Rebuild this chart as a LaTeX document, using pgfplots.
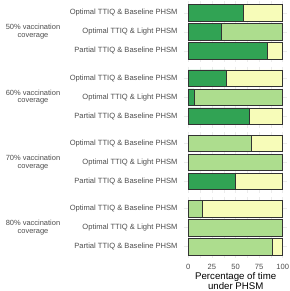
\documentclass[border=0pt]{standalone}
\usepackage{fontspec}
\setmainfont{Liberation Sans}
\usepackage{pgfplots}
\pgfplotsset{compat=1.18}
\definecolor{dkg}{HTML}{31A354}
\definecolor{ltg}{HTML}{ADDD8E}
\definecolor{ylw}{HTML}{F7FCB9}
\definecolor{txt}{HTML}{4D4D4D}
\definecolor{grd}{HTML}{EBEBEB}
\pgfplotsset{panel/.style={
  scale only axis, width=103.8bp, height=60.8bp,
  xmin=-5, xmax=105, ymin=-0.6, ymax=2.6, y dir=reverse,
  xbar stacked, bar width=16.5bp,
  axis line style={draw=none}, major tick length=0, minor tick length=0,
  xtick={0,25,50,75,100}, minor xtick={12.5,37.5,62.5,87.5},
  ytick={0,1,2},
  yticklabels={Optimal TTIQ \& Baseline PHSM, Optimal TTIQ \& Light PHSM, Partial TTIQ \& Baseline PHSM},
  grid=both, major grid style={grd, line width=0.5bp}, minor grid style={grd, line width=0.25bp},
  ticklabel style={font=\fontsize{7.6}{8}\selectfont, text=txt},
  yticklabel style={inner sep=0pt, xshift=-5.9bp},
  xticklabel style={inner sep=0pt, yshift=-5.9bp},
  /pgf/number format/assume math mode=true,
  every axis plot/.append style={draw=black!80, line width=0.5bp},
  anchor=north west,
}}
\begin{document}
\begin{tikzpicture}
\path[use as bounding box] (0,0) rectangle (290bp,291bp);
% 50%
\begin{axis}[panel, at={(183.6bp,289.6bp)}, xticklabels={}]
\addplot[fill=dkg] coordinates {(58,0) (35,1) (84,2)};
\addplot[fill=ltg] coordinates {(0,0) (65,1) (0,2)};
\addplot[fill=ylw] coordinates {(42,0) (0,1) (16,2)};
\end{axis}
% 60%
\begin{axis}[panel, at={(183.6bp,224.3bp)}, xticklabels={}]
\addplot[fill=dkg] coordinates {(40,0) (6,1) (65,2)};
\addplot[fill=ltg] coordinates {(0,0) (94,1) (0,2)};
\addplot[fill=ylw] coordinates {(60,0) (0,1) (35,2)};
\end{axis}
% 70%
\begin{axis}[panel, at={(183.6bp,159.0bp)}, xticklabels={}]
\addplot[fill=dkg] coordinates {(0,0) (0,1) (49.5,2)};
\addplot[fill=ltg] coordinates {(67,0) (100,1) (0,2)};
\addplot[fill=ylw] coordinates {(33,0) (0,1) (50.5,2)};
\end{axis}
% 80%
\begin{axis}[panel, at={(183.6bp,93.7bp)}]
\addplot[fill=dkg] coordinates {(0,0) (0,1) (0,2)};
\addplot[fill=ltg] coordinates {(15,0) (100,1) (89,2)};
\addplot[fill=ylw] coordinates {(85,0) (0,1) (11,2)};
\end{axis}
\begin{scope}[every node/.style={align=center, font=\fontsize{7.5}{7.8}\selectfont, text=txt}]
\node at (33bp,259.2bp) {50\% vaccination\\coverage};
\node at (33bp,193.9bp) {60\% vaccination\\coverage};
\node at (33bp,128.6bp) {70\% vaccination\\coverage};
\node at (33bp,63.3bp) {80\% vaccination\\coverage};
\end{scope}
\node[align=center, font=\fontsize{9.7}{10}\selectfont] at (235.7bp,10bp) {Percentage of time\\under PHSM};
\end{tikzpicture}
\end{document}
